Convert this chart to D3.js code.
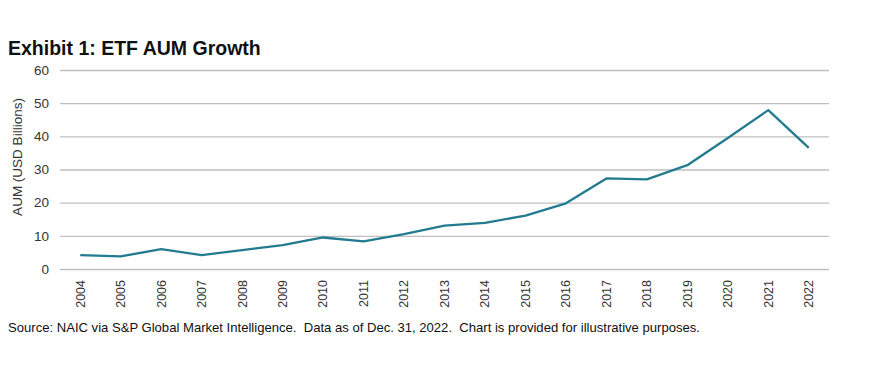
<!DOCTYPE html>
<html><head><meta charset="utf-8">
<script src="https://cdn.jsdelivr.net/npm/d3@7"></script>
<style>body{margin:0;background:#fff}svg{display:block;font-family:"Liberation Sans",Arial,sans-serif}</style>
</head><body><svg id="c" width="873" height="367"></svg>
<script>
const years = ["2004","2005","2006","2007","2008","2009","2010","2011","2012","2013","2014","2015","2016","2017","2018","2019","2020","2021","2022"];
const aum = [4.2,3.8,6.0,4.2,5.7,7.2,9.5,8.3,10.5,13.1,13.9,16.1,19.8,27.3,27.0,31.3,39.5,47.9,36.5];
const yTicks = [0,10,20,30,40,50,60];

const svg = d3.select("#c");
const m = {l:60, r:829, t:70, b:269};
const x = d3.scaleBand().domain(years).range([m.l, m.r]);
const y = d3.scaleLinear().domain([0,60]).range([m.b, m.t]);

svg.append("text").attr("x",8).attr("y",55).attr("font-size",19.5).attr("font-weight","bold").attr("fill","#111").text("Exhibit 1: ETF AUM Growth");

const yAxis = svg.append("g").attr("transform",`translate(${m.l},0)`)
  .call(d3.axisLeft(y).tickValues(yTicks).tickSize(-(m.r-m.l)).tickPadding(11));
yAxis.select(".domain").remove();
yAxis.selectAll("line").attr("stroke","#bfbfbf").attr("stroke-width",1.3);
yAxis.selectAll("text").attr("font-size",13.5).attr("fill","#333").attr("font-family","Liberation Sans, Arial, sans-serif");

const xAxis = svg.append("g").attr("transform",`translate(0,${m.b})`)
  .call(d3.axisBottom(x).tickSize(0).tickPadding(0));
xAxis.select(".domain").remove();
xAxis.selectAll("text").attr("font-size",12.5).attr("fill","#333").attr("font-family","Liberation Sans, Arial, sans-serif")
  .attr("transform","rotate(-90)").attr("text-anchor","end").attr("dy","0.35em").attr("x",-11).attr("y",0);

svg.append("text").attr("transform","translate(22,157) rotate(-90)").attr("text-anchor","middle")
  .attr("font-size",13.5).attr("fill","#333").text("AUM (USD Billions)");

const line = d3.line().x((d,i)=>x(years[i])+x.bandwidth()/2).y(d=>y(d));
svg.append("path").datum(aum).attr("d",line).attr("fill","none").attr("stroke","#237b8f").attr("stroke-width",2.3).attr("stroke-linejoin","round");

svg.append("text").attr("x",8).attr("y",332).attr("font-size",13.1).attr("fill","#111").attr("textLength",692).text("Source: NAIC via S&P Global Market Intelligence.  Data as of Dec. 31, 2022.  Chart is provided for illustrative purposes.").style("white-space","pre");
</script></body></html>
